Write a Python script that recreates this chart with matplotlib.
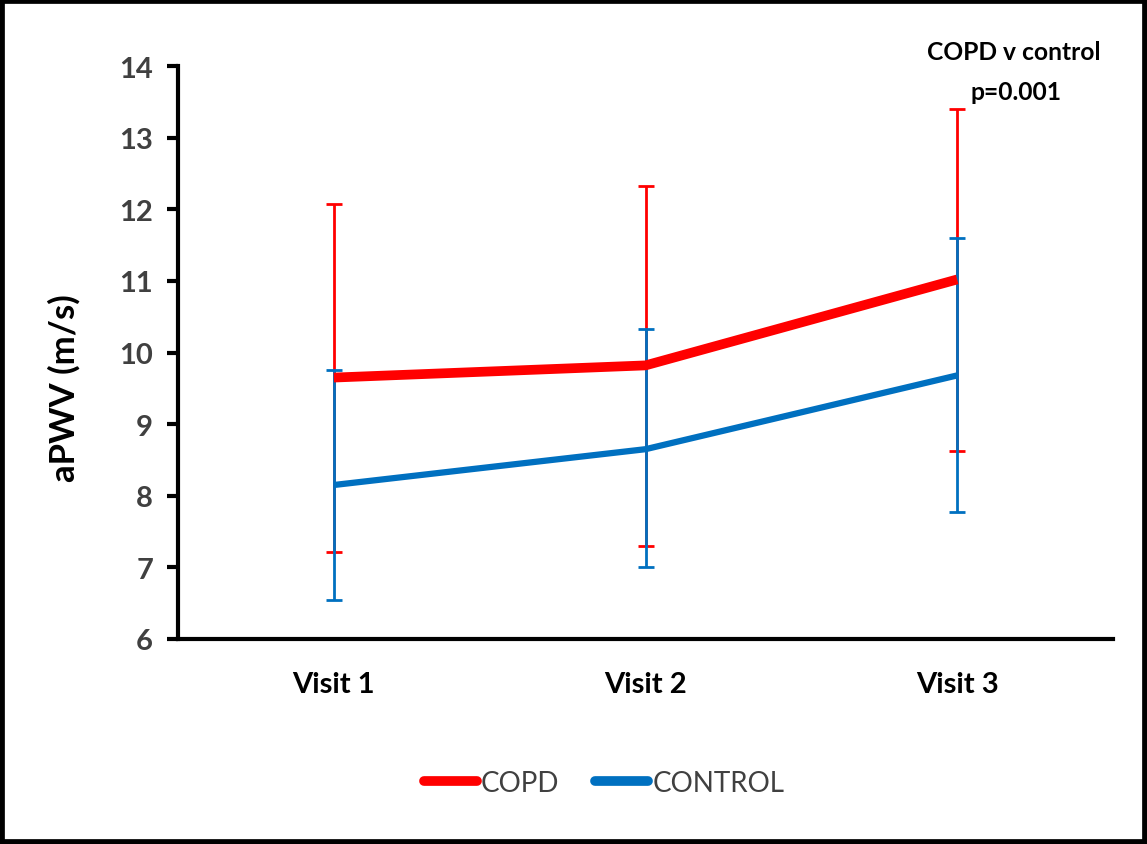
import matplotlib
matplotlib.use("Agg")
import matplotlib.pyplot as plt
from matplotlib.patches import Rectangle

visits = ["Visit 1", "Visit 2", "Visit 3"]

copd_mean = [9.65, 9.82, 11.02]
copd_upper = [12.07, 12.33, 13.40]
copd_lower = [7.22, 7.30, 8.62]

control_mean = [8.15, 8.65, 9.68]
control_upper = [9.76, 10.33, 11.60]
control_lower = [6.55, 7.00, 7.77]

yticks = [6, 7, 8, 9, 10, 11, 12, 13, 14]

RED = "#FF0000"
BLUE = "#0070C0"
GREY = "#404040"
FONT = ["Lato", "DejaVu Sans"]

fig = plt.figure(figsize=(11.47, 8.45), dpi=100)
ax = fig.add_axes([178 / 1147, 1 - 640 / 845, (1113 - 178) / 1147, 573 / 845])

x = list(range(len(visits)))


def err(mean, lo, hi):
    return [[m - l for m, l in zip(mean, lo)], [h - m for m, h in zip(mean, hi)]]


ax.errorbar(x, copd_mean, yerr=err(copd_mean, copd_lower, copd_upper), fmt="none",
            ecolor=RED, elinewidth=2, capsize=6, capthick=2, zorder=2)
ax.errorbar(x, control_mean, yerr=err(control_mean, control_lower, control_upper), fmt="none",
            ecolor=BLUE, elinewidth=2, capsize=6, capthick=2, zorder=2)
ax.plot(x, copd_mean, color=RED, lw=7, solid_capstyle="butt", label="COPD", zorder=3)
ax.plot(x, control_mean, color=BLUE, lw=4.5, solid_capstyle="butt", label="CONTROL", zorder=3)

ax.set_xlim(-0.5, 2.5)
ax.set_ylim(6, 14)
ax.set_yticks(yticks)
ax.set_xticks(x)
ax.set_xticklabels(visits, fontfamily=FONT, fontweight="bold", fontsize=21, color="black")
ax.set_yticklabels([str(t) for t in yticks], fontfamily=FONT, fontweight="bold",
                   fontsize=21, color=GREY)
ax.tick_params(axis="x", length=0, pad=23)
ax.tick_params(axis="y", length=8, width=3, direction="out", pad=10)

for s in ["top", "right"]:
    ax.spines[s].set_visible(False)
for s in ["left", "bottom"]:
    ax.spines[s].set_linewidth(3)

ax.set_ylabel("aPWV (m/s)", fontfamily=FONT, fontweight="bold", fontsize=25)
ax.yaxis.set_label_coords(-0.104, 0.44)

fig.text(1014 / 1147, 1 - 52 / 845, "COPD v control", ha="center", va="center",
         fontfamily=FONT, fontweight="bold", fontsize=17.7)
fig.text(1016 / 1147, 1 - 93 / 845, "p=0.001", ha="center", va="center",
         fontfamily=FONT, fontweight="bold", fontsize=17.7)

leg = fig.legend(loc="center", bbox_to_anchor=(604 / 1147, 1 - 784 / 845), ncol=2,
                 frameon=False, handlelength=1.9, handletextpad=0.15, columnspacing=1.3,
                 prop={"family": FONT, "size": 20})
for h in leg.get_lines():
    h.set_linewidth(7)
    h.set_solid_capstyle("round")
for t in leg.get_texts():
    t.set_color(GREY)

# frame around the whole picture
fig.patches.append(Rectangle((0, 0), 1, 1, transform=fig.transFigure,
                             fill=False, edgecolor="black", linewidth=7))

fig.savefig("out.png", dpi=100)
